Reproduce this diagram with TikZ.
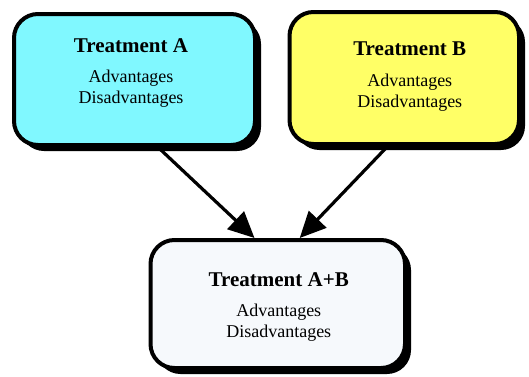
\documentclass[tikz,border=0pt]{standalone}
\usepackage{fontspec}
\setmainfont{Liberation Serif}
\usetikzlibrary{shadows,arrows.meta,calc}
\definecolor{boxA}{HTML}{80F8FF}
\definecolor{boxB}{HTML}{FFFF66}
\definecolor{boxC}{HTML}{F6F9FC}
\tikzset{
  tbox/.style={draw=black, line width=4pt, rounded corners=24pt, inner sep=0pt,
    drop shadow={shadow xshift=6pt, shadow yshift=-6pt, fill=black, opacity=1}},
  ttitle/.style={anchor=base, inner sep=0pt, font=\fontsize{21}{25}\selectfont\bfseries},
  tbody/.style={anchor=base, inner sep=0pt, font=\fontsize{18}{22}\selectfont},
  conn/.style={line width=3.2pt, -{Triangle[length=26pt,width=24pt]}, shorten >=0pt}
}
\begin{document}
\begin{tikzpicture}[x=1pt,y=1pt]
\useasboundingbox (0,0) rectangle (529,376);
% boxes (pixel coords converted: y = 376 - ypx)
\node[tbox, fill=boxA, minimum width=241pt, minimum height=131pt] (a) at (134.5,296.5) {};
\node[tbox, fill=boxB, minimum width=229.5pt, minimum height=132pt] (b) at (404.25,298) {};
\node[tbox, fill=boxC, minimum width=254.5pt, minimum height=128pt] (c) at (277.75,72) {};
% texts
\node[ttitle] (at) at ([xshift=-3.5pt,yshift=-40pt]a.north) {Treatment A};
\node[tbody] (aa) at ([xshift=-3.5pt,yshift=-70pt]a.north) {Advantages};
\node[tbody] (ad) at ([xshift=-3.5pt,yshift=-91pt]a.north) {Disadvantages};
\node[ttitle] (bt) at ([xshift=5.5pt,yshift=-45pt]b.north) {Treatment B};
\node[tbody] (ba) at ([xshift=5.5pt,yshift=-76pt]b.north) {Advantages};
\node[tbody] (bd) at ([xshift=5.5pt,yshift=-97pt]b.north) {Disadvantages};
\node[ttitle] (ct) at ([xshift=1pt,yshift=-48pt]c.north) {Treatment A+B};
\node[tbody] (ca) at ([xshift=1pt,yshift=-78pt]c.north) {Advantages};
\node[tbody] (cd) at ([xshift=1pt,yshift=-99pt]c.north) {Disadvantages};
% connectors
\draw[conn] ($(a.south west)!0.595!(a.south east)$) -- ($(c.north west)!0.41!(c.north east)$);
\draw[conn] ($(b.south west)!0.43!(b.south east)$) -- ($(c.north west)!0.585!(c.north east)$);
\end{tikzpicture}
\end{document}
